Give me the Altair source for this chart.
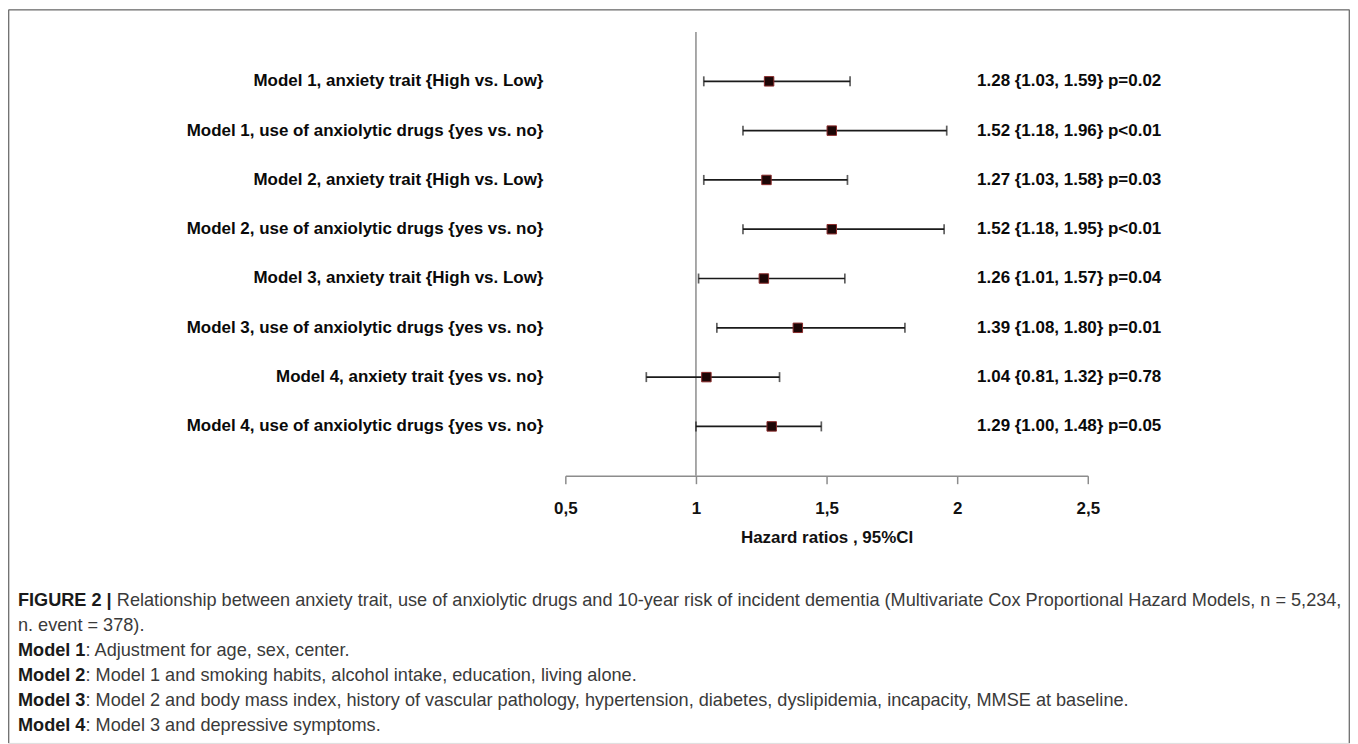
import altair as alt
import pandas as pd

# ---- data ----
labels = [
    "Model 1, anxiety trait {High vs. Low}",
    "Model 1, use of anxiolytic drugs {yes vs. no}",
    "Model 2, anxiety trait {High vs. Low}",
    "Model 2, use of anxiolytic drugs {yes vs. no}",
    "Model 3, anxiety trait {High vs. Low}",
    "Model 3, use of anxiolytic drugs {yes vs. no}",
    "Model 4, anxiety trait {yes vs. no}",
    "Model 4, use of anxiolytic drugs {yes vs. no}",
]
hr = [1.28, 1.52, 1.27, 1.52, 1.26, 1.39, 1.04, 1.29]
lo = [1.03, 1.18, 1.03, 1.18, 1.01, 1.08, 0.81, 1.00]
hi = [1.59, 1.96, 1.58, 1.95, 1.57, 1.80, 1.32, 1.48]
pvals = ["p=0.02", "p<0.01", "p=0.03", "p<0.01", "p=0.04", "p=0.01", "p=0.78", "p=0.05"]
x_ticks = [0.5, 1, 1.5, 2, 2.5]
x_title = "Hazard ratios , 95%CI"

cap_bold = ["FIGURE 2 |", "", "Model 1", "Model 2", "Model 3", "Model 4"]
cap_text = [
    "Relationship between anxiety trait, use of anxiolytic drugs and 10-year risk of incident dementia (Multivariate Cox Proportional Hazard Models, n = 5,234,",
    "n. event = 378).",
    ": Adjustment for age, sex, center.",
    ": Model 1 and smoking habits, alcohol intake, education, living alone.",
    ": Model 2 and body mass index, history of vascular pathology, hypertension, diabetes, dyslipidemia, incapacity, MMSE at baseline.",
    ": Model 3 and depressive symptoms.",
]

# ---- tables ----
rows = pd.DataFrame({"label": labels, "hr": hr, "lo": lo, "hi": hi, "p": pvals})
rows["idx"] = list(range(1, len(labels) + 1))
rows["txt"] = [f"{h:.2f} {{{l:.2f}, {u:.2f}}} {p}" for h, l, u, p in zip(hr, lo, hi, pvals)]
cap = pd.DataFrame({"bold": cap_bold, "text": cap_text})
cap["line"] = list(range(len(cap_text)))
ref = pd.DataFrame({"x": [1.0], "y0": [0], "y1": [len(labels) + 1]})

W, H = 1346, 736
FONT = "Liberation Sans"
CAP_FS = 18.2

xscale = alt.Scale(domain=[0.5, 2.5], range=[559, 1083], zero=False, nice=False)
yscale = alt.Scale(domain=[0, len(labels) + 1], range=[23, 468], zero=False, nice=False)
cscale = alt.Scale(domain=[0, len(cap_text) - 1], range=[594, 719], zero=False, nice=False)

xax = alt.Axis(
    values=x_ticks,
    labelExpr="replace(toString(datum.value), '.', ',')",
    title=x_title,
    offset=468 - H,
    grid=False,
    domainColor="#8c8c8c",
    domainWidth=1.5,
    tickColor="#8c8c8c",
    tickWidth=1.5,
    tickSize=8,
    labelFont=FONT,
    labelFontSize=17,
    labelFontWeight="bold",
    labelColor="#111111",
    labelPadding=17,
    labelFlush=False,
    labelOverlap=False,
    titleFont=FONT,
    titleFontSize=17,
    titleFontWeight="bold",
    titleColor="#111111",
    titlePadding=13,
)


def X(field):
    return alt.X(field, type="quantitative", scale=xscale, axis=xax)


def Y(field):
    return alt.Y(field, type="quantitative", scale=yscale, axis=None)


vline = alt.Chart(ref).mark_rule(color="#8c8c8c", strokeWidth=1.5).encode(
    x=X("x"), y=Y("y0"), y2="y1"
)

base = alt.Chart(rows)
bars = base.mark_rule(color="#1a1a1a", strokeWidth=1.7).encode(x=X("lo"), x2="hi", y=Y("idx"))
cap_lo = base.mark_tick(orient="vertical", size=10, thickness=1.7, color="#1a1a1a").encode(
    x=X("lo"), y=Y("idx")
)
cap_hi = base.mark_tick(orient="vertical", size=10, thickness=1.7, color="#1a1a1a").encode(
    x=X("hi"), y=Y("idx")
)
pts = base.mark_square(size=90, fill="#1c0606", stroke="#8a2a2a", strokeWidth=1, opacity=1).encode(
    x=X("hr"), y=Y("idx")
)
left_txt = base.mark_text(
    align="right", baseline="middle", font=FONT, fontSize=17, fontWeight="bold", color="#0a0a0a"
).encode(x=alt.value(537), y=Y("idx"), text="label:N")
right_txt = base.mark_text(
    align="left", baseline="middle", font=FONT, fontSize=17, fontWeight="bold", color="#0a0a0a"
).encode(x=alt.value(972), y=Y("idx"), text="txt:N")

# ---- caption ----
CY = alt.Y("line:Q", scale=cscale, axis=None)
capc = alt.Chart(cap)
cap_b = capc.transform_filter("datum.bold != ''").mark_text(
    align="left", baseline="middle", font=FONT, fontSize=CAP_FS, fontWeight="bold", color="#1a1a1a"
).encode(x=alt.value(10), y=CY, text="bold:N")
cap_t0 = capc.transform_filter("datum.line == 0").mark_text(
    align="left", baseline="middle", font=FONT, fontSize=CAP_FS, color="#3a3a3a"
).encode(x=alt.value(10 + 5.17 * CAP_FS + 0.278 * CAP_FS), y=CY, text="text:N")
cap_t1 = capc.transform_filter("datum.line == 1").mark_text(
    align="left", baseline="middle", font=FONT, fontSize=CAP_FS, color="#3a3a3a"
).encode(x=alt.value(10), y=CY, text="text:N")
cap_t2 = capc.transform_filter("datum.line >= 2").mark_text(
    align="left", baseline="middle", font=FONT, fontSize=CAP_FS, color="#3a3a3a"
).encode(x=alt.value(10 + 3.723 * CAP_FS), y=CY, text="text:N")

# ---- frame (decoration) ----
frame_top = alt.Chart(ref).mark_rule(color="#6e6e6e", strokeWidth=1.3).encode(
    x=alt.value(0.7), x2=alt.value(W - 0.7), y=alt.value(0.7)
)
frame_left = alt.Chart(ref).mark_rule(color="#6e6e6e", strokeWidth=1.3).encode(
    x=alt.value(0.7), y=alt.value(0.7), y2=alt.value(H)
)
frame_right = alt.Chart(ref).mark_rule(color="#6e6e6e", strokeWidth=1.3).encode(
    x=alt.value(W - 0.7), y=alt.value(0.7), y2=alt.value(H)
)

chart = (
    alt.layer(
        vline, bars, cap_lo, cap_hi, pts, left_txt, right_txt,
        cap_b, cap_t0, cap_t1, cap_t2,
        frame_top, frame_left, frame_right,
    )
    .resolve_scale(y="independent")
    .properties(width=W, height=H, padding=0, autosize=alt.AutoSizeParams(type="none"))
    .configure_view(stroke=None)
    .configure(background="white")
)

chart.save("out.html", embed_options={"renderer": "svg", "actions": False})
